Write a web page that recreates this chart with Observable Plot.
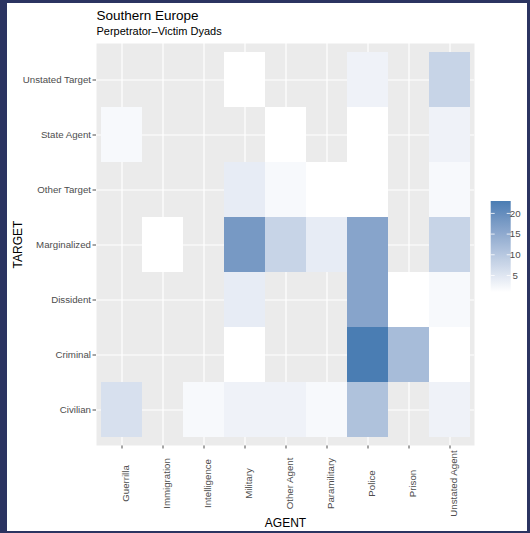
<!DOCTYPE html>
<html>
<head>
<meta charset="utf-8">
<script src="https://cdn.jsdelivr.net/npm/d3@7"></script>
<script src="https://cdn.jsdelivr.net/npm/@observablehq/plot@0.6"></script>
<style>
  html, body { margin: 0; padding: 0; background: #2b3461; width: 530px; height: 533px; overflow: hidden; }
  #chart { position: absolute; left: 7px; top: 3px; width: 520px; height: 528px; background: white; }
</style>
</head>
<body>
<div id="chart"></div>
<script>
const title = "Southern Europe";
const subtitle = "Perpetrator\u2013Victim Dyads";
const xTitle = "AGENT";
const yTitle = "TARGET";

const agents = ["Guerrilla", "Immigration", "Intelligence", "Military", "Other Agent", "Paramilitary", "Police", "Prison", "Unstated Agent"];
// top to bottom
const targets = ["Unstated Target", "State Agent", "Other Target", "Marginalized", "Dissident", "Criminal", "Civilian"];

// counts: rows follow targets, columns follow agents (null = no tile)
const counts = [
  [null, null, null, 1,    null, null, 3,    null, 8],
  [2,    null, null, null, 1,    null, 1,    null, 3],
  [null, null, null, 4,    2,    1,    1,    null, 2],
  [null, 1,    null, 18,   8,    4,    16,   null, 8],
  [null, null, null, 4,    null, null, 16,   1,    2],
  [null, null, null, 1,    null, null, 23,   12,   1],
  [6,    null, 2,    3,    3,    2,    11,   null, 3]
];
const legendTicks = [5, 10, 15, 20];
const lowColor = "#ffffff";
const highColor = "#4a7db3";

const data = [];
targets.forEach((t, i) => agents.forEach((a, j) => {
  const v = counts[i][j];
  if (v != null) data.push({agent: a, target: t, n: v});
}));
const nMin = d3.min(data, d => d.n), nMax = d3.max(data, d => d.n);

const W = 520, H = 528;
const mL = 89, mR = 53, mT = 40, mB = 86;

const chart = Plot.plot({
  width: W, height: H,
  marginLeft: mL, marginRight: mR, marginTop: mT, marginBottom: mB,
  style: {fontFamily: "'Liberation Sans', Arial, Helvetica, sans-serif", fontSize: "9.7px", color: "#4d4d4d", background: "white", overflow: "visible"},
  x: {domain: agents, type: "band", paddingInner: 0, paddingOuter: 0.1, tickSize: 3.5, tickFormat: () => "", label: null},
  y: {domain: targets, type: "band", paddingInner: 0, paddingOuter: 0.1, tickSize: 3.5, tickPadding: 2, label: null},
  color: {type: "linear", domain: [nMin, nMax], range: [lowColor, highColor], interpolate: "lab"},
  marks: [
    Plot.frame({fill: "#ebebeb", stroke: "none"}),
    Plot.ruleX(agents, {x: d => d, stroke: "white", strokeWidth: 1.2}),
    Plot.ruleY(targets, {y: d => d, stroke: "white", strokeWidth: 1.2}),
    Plot.cell(data, {x: "agent", y: "target", fill: "n", inset: 0}),
    Plot.text(agents, {x: d => d, text: d => d, frameAnchor: "bottom", dy: 38, rotate: -90, textAnchor: "middle", lineAnchor: "top", fill: "#4d4d4d", fontSize: 9.7}),
    Plot.text([xTitle], {text: d => d, frameAnchor: "bottom", dy: 78, lineAnchor: "middle", fill: "black", fontSize: 12}),
    Plot.text([yTitle], {text: d => d, frameAnchor: "left", dx: -78.5, rotate: -90, lineAnchor: "middle", textAnchor: "middle", fill: "black", fontSize: 12}),
    Plot.text([title], {text: d => d, frameAnchor: "top-left", dy: -24, textAnchor: "start", lineAnchor: "bottom", fill: "black", fontSize: 13.5}),
    Plot.text([subtitle], {text: d => d, frameAnchor: "top-left", dy: -8.4, textAnchor: "start", lineAnchor: "bottom", fill: "black", fontSize: 11})
  ]
});
document.getElementById("chart").appendChild(chart);

// vertical colorbar legend
const svg = d3.select(chart);
const lx = 483.7, lw = 20, ly = 198, lh = 91;
const ls = d3.scaleLinear().domain([nMin, nMax]).range([ly + lh, ly]);
const interp = d3.interpolateLab(lowColor, highColor);
const defs = svg.append("defs");
const grad = defs.append("linearGradient").attr("id", "cbar").attr("x1", 0).attr("y1", 1).attr("x2", 0).attr("y2", 0);
for (let k = 0; k <= 20; k++) grad.append("stop").attr("offset", k / 20).attr("stop-color", interp(k / 20));
const g = svg.append("g");
g.append("rect").attr("x", lx).attr("y", ly).attr("width", lw).attr("height", lh).attr("fill", "url(#cbar)");
legendTicks.forEach(v => {
  const y = ls(v);
  g.append("line").attr("x1", lx).attr("x2", lx + 4).attr("y1", y).attr("y2", y).attr("stroke", "white").attr("stroke-width", 0.8);
  g.append("line").attr("x1", lx + lw - 4).attr("x2", lx + lw).attr("y1", y).attr("y2", y).attr("stroke", "white").attr("stroke-width", 0.8);
  g.append("text").attr("x", lx + lw + 4.5).attr("y", y).attr("dy", "0.32em").attr("fill", "#4d4d4d").attr("font-size", 9.7).text(v);
});
</script>
</body>
</html>
